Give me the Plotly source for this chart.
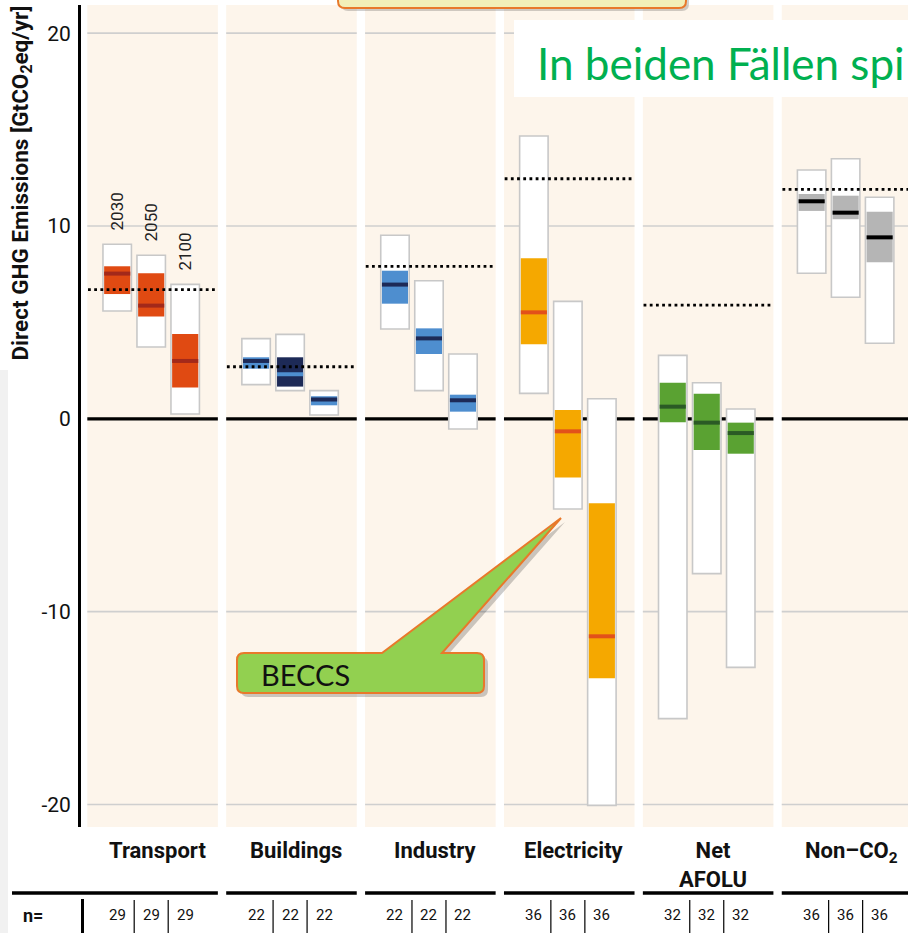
import plotly.graph_objects as go

# ---------------- data ----------------
sectors = ["Transport", "Buildings", "Industry", "Electricity", "Net<br>AFOLU", "Non–CO<sub>2</sub>"]
years = ["2030", "2050", "2100"]
n_models = [29, 22, 22, 36, 32, 36]
ref_2010 = [6.7, 2.7, 7.9, 12.45, 5.9, 11.9]

# per sector: [2030, 2050, 2100]
val_max = [[9.05, 8.48, 6.97], [4.16, 4.38, 1.46], [9.52, 7.16, 3.36],
           [14.67, 6.09, 1.04], [3.29, 1.87, 0.51], [12.9, 13.49, 11.49]]
val_min = [[5.59, 3.72, 0.25], [1.77, 1.46, 0.2], [4.66, 1.46, -0.53],
           [1.32, -4.68, -20.05], [-15.55, -8.03, -12.89], [7.55, 6.3, 3.92]]
val_q3 = [[7.91, 7.55, 4.4], [3.19, 3.19, 1.17], [7.68, 4.69, 1.25],
          [8.32, 0.46, -4.38], [1.87, 1.3, -0.2], [11.66, 11.57, 10.74]]
val_q1 = [[6.47, 5.3, 1.62], [2.6, 1.67, 0.7], [5.97, 3.36, 0.37],
          [3.86, -3.05, -13.46], [-0.18, -1.62, -1.81], [10.78, 10.35, 8.12]]
val_med = [[7.53, 5.87, 3.0], [3.0, 2.31, 1.0], [6.96, 4.17, 0.96],
           [5.52, -0.65, -11.28], [0.63, -0.2, -0.74], [11.28, 10.69, 9.41]]

y_ticks = [-20, -10, 0, 10, 20]
y_ticktext = ["-20", "-10", "0", "10", "20"]

# ---------------- style ----------------
LIGHT_BLUE, NAVY = "#4e8ecf", "#1d2a57"
iqr_col = [["#e04a12"] * 3, [LIGHT_BLUE, NAVY, LIGHT_BLUE], [LIGHT_BLUE] * 3,
           ["#f5a800"] * 3, ["#5aa232"] * 3, ["#b5b5b5"] * 3]
med_col = [["#a3291a"] * 3, [NAVY, LIGHT_BLUE, NAVY], [NAVY] * 3,
           ["#e2511a"] * 3, ["#2b5a25"] * 3, ["#000000"] * 3]
PANEL = "#fdf5eb"
GRID = "#cfcfcf"
STEP, BOX_W, IQR_W = 0.2448, 0.205, 0.188
X_RANGE = [-0.5054, 5.449]
Y_RANGE = [-21.17, 21.46]
W, H = 908, 933
ML, MR, MT, MB = 81, 0, 5, 106
PW, PH = W - ML - MR, H - MT - MB
FONT_IPCC = "Roboto, Arial, sans-serif"
FONT_SLIDE = "Lato, Open Sans, sans-serif"


def px_x(px):
    return (px - ML) / PW


def px_y(py):
    return (H - MB - py) / PH


def dx(x):
    return (x - X_RANGE[0]) / (X_RANGE[1] - X_RANGE[0])


def panel(i):
    return (max(i - 0.46, X_RANGE[0] + 0.012), i + 0.48)


fig = go.Figure()

xs, bases, heights, qb, qh, qc = [], [], [], [], [], []
for i in range(len(sectors)):
    for k in range(3):
        x = i + (k - 1) * STEP
        xs.append(x)
        bases.append(val_min[i][k])
        heights.append(val_max[i][k] - val_min[i][k])
        qb.append(val_q1[i][k])
        qh.append(val_q3[i][k] - val_q1[i][k])
        qc.append(iqr_col[i][k])

fig.add_trace(go.Bar(x=xs, y=heights, base=bases, width=BOX_W,
                     marker=dict(color="white", line=dict(color="#c8c8c8", width=1.6)),
                     hoverinfo="skip"))
fig.add_trace(go.Bar(x=xs, y=qh, base=qb, width=IQR_W,
                     marker=dict(color=qc, line=dict(width=0)), hoverinfo="skip"))

for i in range(len(sectors)):
    for k in range(3):
        x = i + (k - 1) * STEP
        fig.add_trace(go.Scatter(x=[x - IQR_W / 2, x + IQR_W / 2],
                                 y=[val_med[i][k]] * 2, mode="lines",
                                 line=dict(color=med_col[i][k], width=4),
                                 hoverinfo="skip"))

for i, r in enumerate(ref_2010):
    x0, x1 = panel(i)
    fig.add_trace(go.Scatter(x=[x0 + 0.005, x1 - 0.005], y=[r, r], mode="lines",
                             line=dict(color="black", width=2.8, dash="2.8px,3.4px"),
                             hoverinfo="skip"))

shapes = []
for i in range(len(sectors)):
    x0, x1 = panel(i)
    shapes.append(dict(type="rect", xref="x", yref="paper", x0=x0, x1=x1, y0=0, y1=1,
                       fillcolor=PANEL, line=dict(width=0), layer="below"))
    for t in y_ticks:
        if t != 0:
            shapes.append(dict(type="line", xref="x", yref="y", x0=x0, x1=x1, y0=t, y1=t,
                               line=dict(color=GRID, width=1.6), layer="below"))
    shapes.append(dict(type="line", xref="x", yref="y", x0=x0, x1=x1, y0=0, y1=0,
                       line=dict(color="black", width=3.2), layer="below"))

# left grey page strip
shapes.append(dict(type="rect", xref="paper", yref="paper", x0=px_x(0), x1=px_x(8),
                   y0=px_y(933), y1=px_y(370), fillcolor="#f1f1f1", line=dict(width=0),
                   layer="below"))

# n= table
row_line_y = px_y(893)
for i in range(len(sectors)):
    x0, x1 = panel(i)
    left = px_x(12) if i == 0 else dx(x0)
    shapes.append(dict(type="line", xref="paper", yref="paper", x0=left, x1=dx(x1),
                       y0=row_line_y, y1=row_line_y, line=dict(color="black", width=3.5)))
    for s in (-0.5, 0.5):
        xv = dx(i + s * STEP)
        shapes.append(dict(type="line", xref="paper", yref="paper", x0=xv, x1=xv,
                           y0=px_y(933), y1=px_y(900), line=dict(color="black", width=1.2)))
shapes.append(dict(type="line", xref="paper", yref="paper", x0=px_x(82.5), x1=px_x(82.5),
                   y0=px_y(933), y1=px_y(899), line=dict(color="black", width=3)))


def rounded_path(x0, y0, x1, y1, r, dxs=0, dys=0):
    X = lambda p: px_x(p + dxs)
    Y = lambda p: px_y(p + dys)
    return (f"M {X(x0 + r)},{Y(y0)} L {X(x1 - r)},{Y(y0)} Q {X(x1)},{Y(y0)} {X(x1)},{Y(y0 + r)} "
            f"L {X(x1)},{Y(y1 - r)} Q {X(x1)},{Y(y1)} {X(x1 - r)},{Y(y1)} "
            f"L {X(x0 + r)},{Y(y1)} Q {X(x0)},{Y(y1)} {X(x0)},{Y(y1 - r)} "
            f"L {X(x0)},{Y(y0 + r)} Q {X(x0)},{Y(y0)} {X(x0 + r)},{Y(y0)} Z")


def beccs_path(dxs=0, dys=0):
    X = lambda p: px_x(p + dxs)
    Y = lambda p: px_y(p + dys)
    x0, y0, x1, y1, r = 237, 653, 484, 693, 7
    return (f"M {X(x0 + r)},{Y(y0)} L {X(382)},{Y(y0)} L {X(561)},{Y(518)} L {X(442)},{Y(y0)} "
            f"L {X(x1 - r)},{Y(y0)} Q {X(x1)},{Y(y0)} {X(x1)},{Y(y0 + r)} "
            f"L {X(x1)},{Y(y1 - r)} Q {X(x1)},{Y(y1)} {X(x1 - r)},{Y(y1)} "
            f"L {X(x0 + r)},{Y(y1)} Q {X(x0)},{Y(y1)} {X(x0)},{Y(y1 - r)} "
            f"L {X(x0)},{Y(y0 + r)} Q {X(x0)},{Y(y0)} {X(x0 + r)},{Y(y0)} Z")


# top callout (cut off)
shapes.append(dict(type="path", xref="paper", yref="paper",
                   path=rounded_path(338, -40, 686, 8, 7, 3, 3),
                   fillcolor="rgba(0,0,0,0.18)", line=dict(width=0), layer="above"))
shapes.append(dict(type="path", xref="paper", yref="paper",
                   path=rounded_path(338, -40, 686, 8, 7),
                   fillcolor="#f2efb8", line=dict(color="#e8792b", width=2), layer="above"))
# white text box
shapes.append(dict(type="rect", xref="paper", yref="paper", x0=px_x(514), x1=px_x(912),
                   y0=px_y(97), y1=px_y(20), fillcolor="white", line=dict(width=0),
                   layer="above"))
# BECCS callout
shapes.append(dict(type="path", xref="paper", yref="paper", path=beccs_path(4, 4),
                   fillcolor="rgba(0,0,0,0.2)", line=dict(width=0), layer="above"))
shapes.append(dict(type="path", xref="paper", yref="paper", path=beccs_path(),
                   fillcolor="#92d050", line=dict(color="#e8792b", width=2), layer="above"))

ann = []
# y title
ann.append(dict(text="<b>Direct GHG Emissions [GtCO<sub>2</sub>eq/yr]</b>", xref="paper",
                yref="paper", x=px_x(22), y=px_y(4), xanchor="center", yanchor="top",
                textangle=-90, showarrow=False,
                font=dict(family=FONT_IPCC, size=22.5, color="#111")))
# year labels above transport boxes
for k, yr in enumerate(years):
    ann.append(dict(text=yr, x=(k - 1) * STEP, y=val_max[0][k], xref="x", yref="y",
                    xanchor="center", yanchor="bottom", yshift=12, textangle=-90,
                    showarrow=False, font=dict(family=FONT_IPCC, size=17, color="#222")))
# sector labels
for i, s in enumerate(sectors):
    ann.append(dict(text=f"<b>{s}</b>", x=dx(i), xshift=6, y=px_y(836), xref="paper",
                    yref="paper", xanchor="center", yanchor="top", showarrow=False,
                    font=dict(family=FONT_IPCC, size=22, color="#111")))
# n row
ann.append(dict(text="<b>n=</b>", x=px_x(33), y=px_y(915), xref="paper", yref="paper",
                xanchor="center", yanchor="middle", showarrow=False,
                font=dict(family=FONT_IPCC, size=18, color="#111")))
for i, n in enumerate(n_models):
    for k in range(3):
        ann.append(dict(text=str(n), x=dx(i + (k - 1) * STEP), y=px_y(915), xref="paper",
                        yref="paper", xanchor="center", yanchor="middle", showarrow=False,
                        font=dict(family=FONT_IPCC, size=15, color="#111")))
# slide texts
ann.append(dict(text="In beiden Fällen spi", x=px_x(535), y=px_y(63), xref="paper",
                yref="paper", xanchor="left", yanchor="middle", showarrow=False,
                font=dict(family=FONT_SLIDE, size=44, color="#00b050")))
ann.append(dict(text="BECCS", x=px_x(259), y=px_y(674), xref="paper", yref="paper",
                xanchor="left", yanchor="middle", showarrow=False,
                font=dict(family=FONT_SLIDE, size=29, color="#111")))

fig.update_layout(
    width=W, height=H, margin=dict(l=ML, r=MR, t=MT, b=MB, pad=0),
    paper_bgcolor="white", plot_bgcolor="white", showlegend=False, barmode="overlay",
    shapes=shapes, annotations=ann,
    xaxis=dict(range=X_RANGE, showgrid=False, zeroline=False, showticklabels=False,
               showline=False, fixedrange=True),
    yaxis=dict(range=Y_RANGE, tickvals=y_ticks, ticktext=y_ticktext, showgrid=False,
               zeroline=False, showline=True, linecolor="black", linewidth=3, ticks="",
               ticklabelstandoff=3, tickfont=dict(family=FONT_IPCC, size=21, color="#111")),
)

fig.write_html("out.html", config={"displayModeBar": False},
               post_script="document.body.style.margin='0px';")
